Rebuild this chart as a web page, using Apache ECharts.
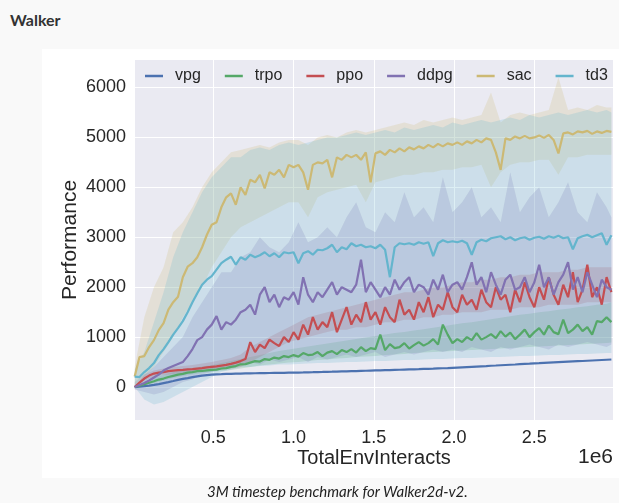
<!DOCTYPE html>
<html lang="en">
<head>
<meta charset="UTF-8">
<title>Walker</title>
<script src="https://cdn.jsdelivr.net/npm/echarts@6/dist/echarts.min.js"></script>
<style>
  html,body{margin:0;padding:0;}
  body{width:619px;height:503px;background:#f9f9f9;position:relative;overflow:hidden;}
  .title{position:absolute;left:10px;top:12px;line-height:16px;font-family:Lato,sans-serif;font-size:16px;font-weight:bold;color:#333;}
  .fig{position:absolute;left:42px;top:49px;width:577px;height:429px;background:#fff;}
  #main{position:absolute;left:0;top:0;width:619px;height:503px;}
  .caption{position:absolute;left:207px;top:484px;line-height:15px;font-family:Lato,sans-serif;font-style:italic;font-size:15px;color:#222;white-space:nowrap;}
</style>
</head>
<body>
<div class="title">Walker</div>
<div class="fig"></div>
<div id="main"></div>
<div class="caption">3M timestep benchmark for Walker2d-v2.</div>
<script>
// x in millions of env interacts, one point every 30k steps
var steps = [];
for (var i = 0; i < 100; i++) steps.push(+(0.01 + 0.03 * i).toFixed(2));
// std bands are read on a coarser grid (every 60k steps)
var bandSteps = [];
for (var j = 0; j < 50; j++) bandSteps.push(+(0.01 + 0.06 * j).toFixed(2));
bandSteps.push(2.98);

var algos = ['vpg', 'trpo', 'ppo', 'ddpg', 'sac', 'td3'];
var colors = ['#4C72B0', '#55A868', '#C44E52', '#8172B2', '#CCB974', '#64B5CD'];
var yTicks = [0, 1000, 2000, 3000, 4000, 5000, 6000];
var xTicks = [0.5, 1.0, 1.5, 2.0, 2.5];

var vpg = [0, 8, 18, 28, 42, 60, 80, 100, 122, 145,
  163, 180, 198, 214, 228, 240, 250, 255, 258, 262,
  265, 268, 270, 272, 274, 276, 278, 280, 281, 283,
  284, 285, 287, 288, 290, 292, 295, 297, 300, 302,
  305, 307, 310, 313, 315, 318, 320, 323, 326, 329,
  332, 334, 337, 340, 343, 346, 349, 352, 355, 358,
  362, 365, 368, 372, 376, 380, 385, 390, 395, 400,
  405, 410, 415, 420, 426, 431, 437, 442, 447, 452,
  458, 463, 468, 474, 479, 485, 490, 495, 500, 505,
  510, 514, 518, 522, 527, 532, 537, 542, 547, 552];

var trpo = [0, 25, 55, 85, 115, 150, 170, 200, 225, 250,
  265, 290, 300, 318, 322, 335, 345, 350, 372, 380,
  405, 420, 455, 460, 490, 520, 510, 560, 545, 590,
  570, 620, 600, 640, 610, 680, 640, 650, 700, 620,
  690, 720, 660, 740, 700, 760, 690, 800, 720, 780,
  760, 1050, 740, 860, 780, 800, 880, 770, 840, 900,
  830, 880, 960, 850, 1250, 1050, 880, 960, 900, 1000,
  940, 1080, 950, 1000, 1060, 980, 1120, 1010, 1090, 960,
  1050, 1150, 1000, 1100, 1180, 1050, 1230, 1100, 1060, 1350,
  1080, 1150, 1250, 1120, 1200, 1050, 1320, 1300, 1400, 1300];

var ppo = [0, 90, 170, 230, 270, 290, 300, 320, 330, 340,
  345, 355, 360, 370, 380, 395, 405, 415, 430, 445,
  465, 490, 520, 560, 900, 700, 850, 780, 950, 880,
  820, 1000, 900, 1100, 950, 1250, 1050, 1400, 1150, 1300,
  1200, 1500, 1100, 1350, 1600, 1250, 1450, 1300, 1700, 1350,
  1500, 1250, 1600, 1400, 1300, 1750, 1450, 1550, 1350, 1700,
  1500, 1800, 1400, 1650, 1550, 1900, 1600, 1500, 1850, 1650,
  1750, 1550, 1950, 1700, 1600, 2000, 1750, 1850, 1500, 1950,
  1700, 2100, 1800, 1600, 2000, 1750, 2200, 1850, 1650, 2050,
  1800, 2300, 1700, 1950, 2450, 1800, 2000, 1650, 2200, 1900];

var ddpg = [0, 40, 80, 130, 190, 250, 330, 380, 420, 460,
  500, 620, 760, 940, 1000, 1150, 1250, 1420, 1150, 1300,
  1250, 1350, 1500, 1550, 1650, 1450, 1850, 2000, 1700, 1850,
  1600, 1800, 1750, 1900, 1650, 2200, 1850, 1700, 1900, 1800,
  1950, 2100, 1850, 2000, 1950, 1900, 2050, 2550, 1900, 2100,
  1950, 1800, 2000, 1850, 2150, 1950, 2100, 2200, 1900, 2050,
  2000, 1850, 2150, 1950, 2250, 1900, 2050, 2100, 1950, 2200,
  2500, 2050, 2200, 1900, 2300, 2050, 1850, 2150, 2250, 1950,
  2000, 2200, 1900, 2100, 2450, 2000, 2200, 1850, 2100, 2250,
  2500, 1950, 2200, 1900, 2300, 2050, 1800, 2150, 2000, 1950];

var sac = [210, 600, 620, 800, 940, 1140, 1280, 1550, 1700, 1810,
  2200, 2410, 2480, 2600, 2800, 3050, 3250, 3300, 3600, 3800,
  3880, 3650, 4000, 3850, 4150, 4100, 4250, 3980, 4300, 4250,
  4350, 4200, 4450, 4400, 4450, 4300, 3950, 4450, 4500, 4480,
  4550, 4200, 4600, 4550, 4650, 4600, 4650, 4550, 4700, 4100,
  4680, 4720, 4650, 4750, 4700, 4780, 4720, 4800, 4760, 4820,
  4780, 4850, 4800, 4870, 4820, 4880, 4850, 4900, 4850, 4920,
  4880, 4950, 4900, 4980, 4950, 4700, 4350, 4980, 4950, 5020,
  4980, 5030, 4980, 5000, 5040, 4990, 5050, 4950, 4680, 5080,
  5100, 5060, 5120, 5100, 5130, 5070, 5120, 5090, 5130, 5110];

var td3 = [210, 200, 300, 380, 480, 640, 760, 900, 1050, 1180,
  1320, 1500, 1700, 1880, 2050, 2150, 2220, 2350, 2480, 2550,
  2610, 2450, 2600, 2550, 2650, 2600, 2640, 2700, 2620, 2680,
  2600, 2700, 2680, 2700, 2480, 2680, 2720, 2650, 2750, 2740,
  2780, 2850, 2700, 2800, 2760, 2880, 2820, 2850, 2800, 2820,
  2780, 2850, 2750, 2200, 2800, 2880, 2860, 2880, 2850, 2900,
  2870, 2900, 2620, 2880, 2940, 2900, 2920, 2900, 2930, 2880,
  2650, 2900, 2950, 2920, 2980, 3000, 3020, 2960, 3000, 2940,
  2980, 3000, 2950, 2990, 3010, 2970, 3020, 2990, 3030, 2980,
  3000, 2760, 2980, 3020, 3050, 3000, 3040, 3080, 2850, 3040];

// std bands (lower / upper) on bandSteps
var trpoLo = [0, 30, 80, 130, 180, 220, 250, 280, 300, 320,
  340, 370, 400, 430, 450, 470, 490, 500, 520, 540,
  550, 570, 580, 600, 610, 620, 640, 650, 660, 680,
  690, 700, 710, 720, 730, 740, 750, 760, 770, 780,
  790, 800, 810, 820, 830, 840, 850, 860, 870, 880, 890];
var trpoHi = [0, 100, 180, 240, 300, 350, 380, 410, 440, 480,
  520, 560, 600, 640, 680, 720, 750, 780, 810, 840,
  870, 900, 930, 960, 990, 1020, 1050, 1080, 1100, 1130,
  1160, 1190, 1220, 1250, 1280, 1300, 1330, 1360, 1390, 1420,
  1450, 1470, 1500, 1520, 1550, 1570, 1600, 1620, 1650, 1670, 1700];
var ppoLo = [0, 120, 210, 240, 260, 280, 290, 310, 330, 350,
  370, 400, 500, 600, 700, 800, 900, 950, 1000, 1050,
  1100, 1150, 1150, 1200, 1200, 1250, 1300, 1300, 1350, 1350,
  1400, 1400, 1450, 1450, 1500, 1500, 1500, 1550, 1550, 1550,
  1600, 1600, 1600, 1650, 1650, 1650, 1650, 1700, 1700, 1700, 1700];
var ppoHi = [0, 250, 330, 370, 400, 420, 440, 470, 500, 540,
  580, 650, 800, 900, 1000, 1100, 1200, 1300, 1400, 1450,
  1500, 1550, 1600, 1650, 1700, 1750, 1800, 1850, 1900, 1900,
  1950, 2000, 2000, 2050, 2100, 2100, 2150, 2150, 2200, 2200,
  2250, 2250, 2300, 2300, 2300, 2350, 2350, 2400, 2400, 2400, 2400];
var ddpgLo = [-50, -100, -150, -100, 0, 100, 150, 250, 300, 350,
  400, 450, 500, 450, 550, 500, 550, 600, 500, 600,
  550, 600, 650, 600, 650, 700, 600, 650, 700, 650,
  700, 750, 700, 750, 700, 800, 750, 700, 800, 750,
  800, 850, 800, 750, 850, 800, 850, 900, 850, 800, 850];
var ddpgHi = [100, 250, 400, 600, 800, 1000, 1400, 1700, 2000, 2300,
  2300, 2600, 2700, 3000, 2800, 2700, 2900, 3300, 2900, 3000,
  3200, 3000, 3400, 3700, 3200, 3100, 3500, 3300, 3900, 3400,
  3600, 3300, 4200, 3500, 3700, 4000, 3400, 3600, 3300, 4300,
  3500, 3800, 4000, 3400, 3700, 4100, 3500, 3300, 3900, 3600, 3400];
var sacLo = [0, 200, 400, 700, 1000, 1400, 1700, 2000, 2400, 2700,
  3000, 3200, 3300, 3400, 3500, 3600, 3700, 3700, 3400, 3800,
  3900, 3950, 4000, 4050, 3700, 4100, 4150, 4200, 4250, 4250,
  4300, 4300, 4350, 4350, 4400, 4400, 4450, 4000, 4300, 4450,
  4500, 4500, 4550, 4550, 4250, 4600, 4600, 4650, 4650, 4650, 4650];
var sacHi = [400, 1400, 2000, 2400, 3100, 3300, 3600, 4000, 4300, 4500,
  4700, 4750, 4800, 4850, 4800, 4900, 4950, 4950, 4850, 5000,
  5050, 5000, 5100, 5150, 5100, 5150, 5200, 5250, 5300, 5250,
  5350, 5300, 5350, 5400, 5350, 5400, 5450, 5900, 5300, 5450,
  5500, 5450, 5500, 5550, 6200, 5550, 5600, 5550, 5650, 5600, 5600];
var td3Lo = [0, -250, -350, -300, -200, -100, 0, 100, 200, 300,
  350, 400, 400, 420, 430, 450, 450, 460, 470, 480,
  480, 490, 500, 500, 510, 520, 520, 530, 540, 540,
  550, 560, 560, 570, 580, 580, 590, 600, 600, 610,
  620, 620, 630, 640, 640, 650, 660, 660, 670, 680, 680];
var td3Hi = [350, 700, 1300, 1900, 2600, 3100, 3500, 3900, 4200, 4400,
  4600, 4600, 4750, 4800, 4750, 4850, 4900, 4850, 4900, 4950,
  5000, 5000, 5050, 5100, 5050, 5100, 5150, 5100, 5200, 5150,
  5200, 5250, 5200, 5300, 5250, 5300, 5350, 5300, 5350, 5400,
  5350, 5450, 5400, 5450, 5500, 5450, 5500, 5550, 5500, 5550, 5500];

var lines = { vpg: vpg, trpo: trpo, ppo: ppo, ddpg: ddpg, sac: sac, td3: td3 };
var bands = { trpo: [trpoLo, trpoHi], ppo: [ppoLo, ppoHi], ddpg: [ddpgLo, ddpgHi], sac: [sacLo, sacHi], td3: [td3Lo, td3Hi] };

// one polygon per band: upper edge left->right, lower edge back
function bandRender(color) {
  return function (params, api) {
    if (params.dataIndexInside !== 0) return;
    var n = params.dataInsideLength, pts = [], k;
    for (k = 0; k < n; k++) pts.push(api.coord([api.value(0, k), api.value(2, k)]));
    for (k = n - 1; k >= 0; k--) pts.push(api.coord([api.value(0, k), api.value(1, k)]));
    return { type: 'polygon', shape: { points: pts }, style: { fill: color, opacity: 0.22 }, silent: true };
  };
}

var series = [];
algos.forEach(function (name, n) {
  var c = colors[n];
  if (bands[name]) {
    var lo = bands[name][0], hi = bands[name][1];
    series.push({
      type: 'custom', name: name + '_band', renderItem: bandRender(c),
      data: bandSteps.map(function (x, k) { return [x, lo[k], hi[k]]; }),
      encode: { x: 0, y: [1, 2] }, silent: true
    });
  }
  series.push({
    type: 'line', name: name,
    data: steps.map(function (x, k) { return [x, lines[name][k]]; }),
    symbol: 'none', lineStyle: { width: 2.2, color: c }, itemStyle: { color: c }, silent: true
  });
});

var chart = echarts.init(document.getElementById('main'), null, { renderer: 'canvas' });
chart.setOption({
  animation: false,
  textStyle: { fontFamily: '"Liberation Sans", Arial, sans-serif' },
  grid: { left: 135, top: 60, width: 478, height: 360, show: true, backgroundColor: '#eaeaf2', borderWidth: 0, containLabel: false, outerBoundsMode: 'none' },
  legend: {
    data: algos, left: 140, top: 63, icon: 'rect', itemWidth: 18, itemHeight: 2.5, itemGap: 24,
    textStyle: { fontSize: 16, color: '#262626', padding: [0, 0, 0, 7] }
  },
  xAxis: {
    type: 'value', min: 0.012, max: 2.99,
    name: 'TotalEnvInteracts', nameLocation: 'middle', nameGap: 28, nameMoveOverlap: false,
    nameTextStyle: { fontSize: 20, color: '#262626' },
    axisLine: { show: false },
    axisTick: { show: false, customValues: xTicks },
    axisLabel: { customValues: xTicks, fontSize: 18, color: '#262626', margin: 9, formatter: function (v) { return v.toFixed(1); } },
    splitLine: { show: true, lineStyle: { color: '#ffffff', width: 1 } }
  },
  yAxis: {
    type: 'value', min: -660, max: 6550,
    name: 'Performance', nameLocation: 'middle', nameGap: 54, nameRotate: 90, nameMoveOverlap: false,
    nameTextStyle: { fontSize: 21, color: '#262626' },
    axisLine: { show: false },
    axisTick: { show: false, customValues: yTicks },
    axisLabel: { customValues: yTicks, fontSize: 18, color: '#262626', margin: 9, formatter: function (v) { return String(v); } },
    splitLine: { show: true, lineStyle: { color: '#ffffff', width: 1 } }
  },
  graphic: [{
    type: 'text', right: 6, top: 447,
    style: { text: '1e6', fontSize: 21, fill: '#262626', fontFamily: '"Liberation Sans", Arial, sans-serif' }
  }],
  series: series
});
</script>
</body>
</html>
